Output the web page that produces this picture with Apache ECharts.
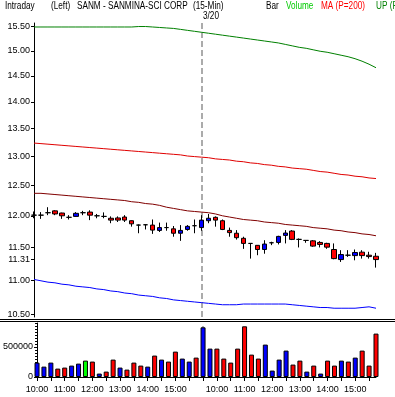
<!DOCTYPE html>
<html><head><meta charset="utf-8">
<script src="https://cdn.jsdelivr.net/npm/echarts@6/dist/echarts.min.js"></script>
<style>html,body{margin:0;padding:0;background:#fff}#c{width:395px;height:397px}</style>
</head><body><div id="c"></div><script>
const categories = [
 '3/19 10:00','3/19 10:15','3/19 10:30','3/19 10:45','3/19 11:00','3/19 11:15','3/19 11:30','3/19 11:45',
 '3/19 12:00','3/19 12:15','3/19 12:30','3/19 12:45','3/19 13:00','3/19 13:15','3/19 13:30','3/19 13:45',
 '3/19 14:00','3/19 14:15','3/19 14:30','3/19 14:45','3/19 15:00','3/19 15:15','3/19 15:30','3/19 15:45',
 '3/20 09:30','3/20 09:45','3/20 10:00','3/20 10:15','3/20 10:30','3/20 10:45','3/20 11:00','3/20 11:15',
 '3/20 11:30','3/20 11:45','3/20 12:00','3/20 12:15','3/20 12:30','3/20 12:45','3/20 13:00','3/20 13:15',
 '3/20 13:30','3/20 13:45','3/20 14:00','3/20 14:15','3/20 14:30','3/20 14:45','3/20 15:00','3/20 15:15',
 '3/20 15:30','3/20 15:45'];
const opens = [12.01,12.01,12.05,12.08,12.045,11.975,11.99,12.05,12.06,12.00,11.99,11.96,11.965,11.98,11.92,11.85,
 11.855,11.85,11.765,11.81,11.79,11.72,11.78,11.84,11.81,11.92,11.975,11.92,11.765,11.72,11.64,11.56,
 11.53,11.465,11.57,11.575,11.686,11.755,11.623,11.607,11.60,11.575,11.56,11.465,11.31,11.377,11.371,11.424,11.377,11.361];
const closes = [12.01,12.01,12.05,12.03,12.00,11.975,12.04,12.05,12.01,12.00,11.99,11.93,11.93,11.93,11.87,11.85,
 11.855,11.77,11.81,11.81,11.72,11.765,11.83,11.84,11.93,11.96,11.93,11.78,11.73,11.65,11.56,11.56,
 11.465,11.55,11.57,11.67,11.723,11.623,11.623,11.607,11.518,11.544,11.502,11.325,11.387,11.377,11.419,11.371,11.356,11.31];
const lows = [11.96,11.95,12.01,12.01,11.95,11.94,11.985,12.01,11.93,11.96,11.96,11.88,11.90,11.90,11.825,11.72,
 11.78,11.71,11.74,11.76,11.665,11.60,11.76,11.72,11.76,11.88,11.825,11.77,11.665,11.62,11.475,11.325,
 11.377,11.40,11.533,11.544,11.56,11.612,11.497,11.57,11.507,11.497,11.476,11.315,11.274,11.351,11.299,11.325,11.325,11.188];
const highs = [12.07,12.06,12.14,12.09,12.05,12.01,12.06,12.08,12.09,12.03,12.055,11.99,11.99,12.01,11.925,11.86,
 11.86,11.94,11.89,11.89,11.835,11.85,11.85,11.94,12.01,12.03,11.99,11.94,11.81,11.77,11.665,11.56,
 11.533,11.61,11.586,11.68,11.77,11.77,11.638,11.612,11.612,11.596,11.57,11.56,11.455,11.455,11.465,11.455,11.43,11.413];
const volumes = [240000,173000,240000,140000,157000,190000,223000,273000,257000,57000,90000,290000,157000,123000,240000,190000,
 173000,357000,290000,257000,423000,307000,257000,323000,
 828000,473000,473000,307000,240000,473000,845000,373000,307000,540000,107000,290000,440000,207000,273000,90000,
 190000,57000,273000,190000,273000,257000,323000,440000,190000,723000];
// volume bar direction: u = up, d = down, n = unchanged
const volDir = ['u','u','u','d','d','u','u','n','d','u','d','d','u','d','d','d','u','d','u','d','d','u','u','d',
 'u','u','d','d','d','d','d','d','d','u','u','u','u','d','d','u','d','u','d','d','u','d','u','d','d','d'];
const upBand = [15.49,15.49,15.49,15.49,15.49,15.49,15.49,15.49,15.49,15.49,15.49,15.49,15.49,15.49,15.49,15.50,
 15.50,15.49,15.48,15.47,15.46,15.44,15.42,15.40,15.38,15.36,15.34,15.32,15.30,15.28,15.26,15.24,
 15.22,15.20,15.18,15.16,15.13,15.10,15.07,15.05,15.02,14.99,14.97,14.94,14.91,14.88,14.84,14.79,14.73,14.66];
const ma200 = [13.24,13.23,13.22,13.21,13.20,13.19,13.18,13.17,13.16,13.15,13.14,13.13,13.12,13.11,13.10,13.09,
 13.08,13.07,13.06,13.05,13.04,13.03,13.01,13.00,12.99,12.98,12.96,12.95,12.94,12.92,12.91,12.89,
 12.88,12.86,12.85,12.83,12.82,12.80,12.79,12.78,12.76,12.74,12.73,12.71,12.69,12.68,12.66,12.65,12.63,12.62];
const midLine = [12.37,12.37,12.36,12.35,12.34,12.33,12.32,12.31,12.30,12.29,12.28,12.27,12.26,12.25,12.23,12.22,
 12.20,12.19,12.17,12.14,12.12,12.10,12.08,12.07,12.06,12.05,12.03,12.00,11.98,11.96,11.94,11.93,
 11.92,11.90,11.89,11.88,11.86,11.85,11.84,11.83,11.81,11.80,11.79,11.77,11.76,11.74,11.73,11.71,11.70,11.68];
const dnBand = [11.01,10.99,10.97,10.96,10.94,10.93,10.91,10.90,10.89,10.87,10.86,10.84,10.83,10.81,10.80,10.78,
 10.77,10.76,10.74,10.73,10.71,10.70,10.69,10.68,10.67,10.66,10.65,10.64,10.64,10.64,10.65,10.65,
 10.65,10.65,10.65,10.65,10.65,10.64,10.63,10.62,10.61,10.60,10.60,10.59,10.59,10.59,10.59,10.60,10.61,10.59];
const priceTicks = [10.5,11,11.31,11.5,12,12.5,13,13.5,14,14.5,15,15.5];
const priceMinorStep = 0.1;
const volTicks = [0,500000];
const volMinorStep = 50000;
const dayBreak = '3/20 09:30';

const FONT = "'Liberation Sans',Arial,sans-serif";
const chart = echarts.init(document.getElementById('c'), null, {renderer:'canvas'});
const candleData = opens.map((o,i)=>[o, closes[i], lows[i], highs[i]]);
const volColor = {u:'#0000ff', d:'#ff0000', n:'#00ff00'};
const volData = volumes.map((v,i)=>({value:v, itemStyle:{color: volColor[volDir[i]]}}));
const priceMinor = []; for (let k = 105; k <= 155; k += priceMinorStep*100) priceMinor.push(Math.round(k)/100);
const volMinor = []; for (let v = 0; v <= 900000; v += volMinorStep) volMinor.push(v);
const lineS = (name, data, color) => ({name, type:'line', data, xAxisIndex:0, yAxisIndex:0, symbol:'none',
  silent:true, lineStyle:{color, width:1}, z:1, animation:false});
const txt = (x,y,t,color) => ({type:'text', x, y, scaleX:0.82, style:{text:t, fill:color||'#000', font:'10px '+FONT, textVerticalAlign:'top'}});
const minorAxis = (grid, type, extra, ticks) => Object.assign({type, gridIndex:grid, position:'left', offset:0,
  axisLine:{show:false},
  axisTick:{show:true, customValues:ticks, length:2, lineStyle:{color:'#000'}},
  axisLabel:{show:false}, splitLine:{show:false}}, extra);

chart.setOption({
  animation:false,
  backgroundColor:'#fff',
  grid:[
    {left:34, width:342, top:23, height:294},
    {left:34, width:342, top:323, height:54}
  ],
  xAxis:[
    {type:'category', gridIndex:0, data:categories, boundaryGap:false, show:false},
    {type:'category', gridIndex:1, data:categories, boundaryGap:false,
     axisLine:{lineStyle:{color:'#000', width:1}},
     axisTick:{interval:(i)=> i%2===0, length:4, lineStyle:{color:'#000'}},
     axisLabel:{interval:(i,v)=> v.endsWith(':00'), formatter:(v)=> v.split(' ')[1], color:'#000',
       fontFamily:FONT, fontSize:9, margin:8}}
  ],
  yAxis:[
    {type:'log', gridIndex:0, position:'left', logBase:10, min:10.465, max:15.574,
     axisLine:{show:true, lineStyle:{color:'#000'}},
     axisTick:{show:true, customValues:priceTicks, length:3, lineStyle:{color:'#000'}},
     axisLabel:{customValues:priceTicks, formatter:(v)=> Number(v).toFixed(2), color:'#000',
       fontFamily:FONT, fontSize:9, margin:4},
     splitLine:{show:false}},
    {type:'value', gridIndex:1, position:'left', min:0, max:900000,
     axisLine:{show:true, lineStyle:{color:'#000'}},
     axisTick:{show:true, customValues:volTicks, length:3, lineStyle:{color:'#000'}},
     axisLabel:{customValues:volTicks, formatter:(v)=> String(v), color:'#000',
       fontFamily:FONT, fontSize:9, margin:4},
     splitLine:{show:false}},
    minorAxis(0, 'log', {logBase:10, min:10.465, max:15.574}, priceMinor),
    minorAxis(1, 'value', {min:0, max:900000}, volMinor)
  ],
  series:[
    lineS('UP', upBand, '#008000'),
    lineS('MA', ma200, '#e00000'),
    lineS('MID', midLine, '#800000'),
    lineS('DN', dnBand, '#0000ff'),
    {type:'candlestick', xAxisIndex:0, yAxisIndex:0, data:candleData, barWidth:5, z:3,
     itemStyle:{color:'#0000ff', color0:'#ff0000', borderColor:'#000', borderColor0:'#000', borderColorDoji:'#000', borderWidth:1},
     markLine:{silent:true, symbol:'none', label:{show:false}, z:0,
       lineStyle:{color:'#909090', type:[6,3], width:1.5}, data:[{xAxis:dayBreak}]}},
    {type:'bar', xAxisIndex:1, yAxisIndex:1, data:volData, barWidth:5,
     itemStyle:{borderColor:'#000', borderWidth:1},
     markLine:{silent:true, symbol:'none', label:{show:false}, z:0,
       lineStyle:{color:'#909090', type:[6,3], width:1.5}, data:[{xAxis:dayBreak}]}, z:2}
  ],
  graphic:[
    txt(5,1,'Intraday'), txt(51,1,'(Left)'), txt(77,1,'SANM - SANMINA-SCI CORP'), txt(193,1,'(15-Min)'),
    txt(203,11,'3/20'),
    txt(266,1,'Bar'), txt(286,1,'Volume','#00cc00'), txt(321,1,'MA (P=200)','#ff0000'), txt(376,1,'UP (P=20)','#008000'),
    {type:'line', shape:{x1:0,y1:319.5,x2:395,y2:319.5}, style:{stroke:'#000', lineWidth:1}},
    {type:'line', shape:{x1:0,y1:321.5,x2:395,y2:321.5}, style:{stroke:'#000', lineWidth:1}}
  ]
});
</script></body></html>
